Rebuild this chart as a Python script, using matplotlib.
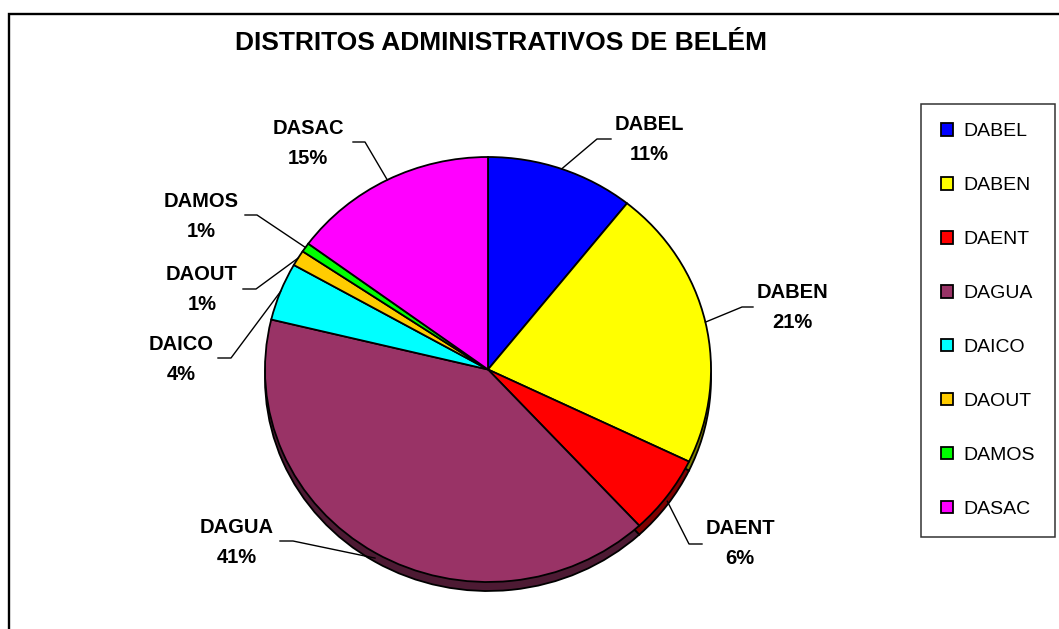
import matplotlib.pyplot as plt
from matplotlib.colors import to_rgb
from matplotlib.patches import Rectangle
import numpy as np

plt.rcParams['font.family'] = ['Liberation Sans', 'DejaVu Sans']

# Data (shares in %)
districts = ['DABEL', 'DABEN', 'DAENT', 'DAGUA', 'DAICO', 'DAOUT', 'DAMOS', 'DASAC']
shares = [10.7, 21.4, 6.0, 40.6, 4.4, 1.2, 0.7, 14.9]
colors = ['#0000FF', '#FFFF00', '#FF0000', '#993366', '#00FFFF', '#FFCC00', '#00FF00', '#FF00FF']
title = 'DISTRITOS ADMINISTRATIVOS DE BELÉM'

# layout in pixels
W, H = 1059, 629
CX, CY = 488, 369.5      # pie centre
RX, RY = 223, 212.5      # ellipse radii (tilted pie)
DEPTH = 9                # thickness of the 3d edge

# label centre x, first baseline, elbow point, end of horizontal tick
label_layout = {
    'DABEL': (649, 130, (597, 139), (611, 139)),
    'DABEN': (792, 298, (742, 307), (753, 307)),
    'DAENT': (740, 534, (689, 544), (702, 544)),
    'DAGUA': (237, 533, (293, 541), (280, 541)),
    'DAICO': (181, 350, (231, 358), (218, 358)),
    'DAOUT': (202, 280, (256, 289), (243, 289)),
    'DAMOS': (201, 207, (257, 215), (245, 215)),
    'DASAC': (308, 134, (365, 142), (353, 142)),
}


def px(x):
    return (x - CX) / RX


def py(y):
    return (CY - y) / RY


fig = plt.figure(figsize=(W / 100, H / 100), dpi=100)
ax = fig.add_axes([0, 0, 1, 1])

edge = dict(edgecolor='black', linewidth=1.3)
dark = [tuple(c * 0.5 for c in to_rgb(col)) for col in colors]

# side of the pie: darker copy shifted down
ax.pie(shares, colors=dark, startangle=90, counterclock=False,
       center=(0, -DEPTH / RY), radius=1, wedgeprops=edge)
wedges, _ = ax.pie(shares, colors=colors, startangle=90, counterclock=False,
                   center=(0, 0), radius=1, wedgeprops=edge)

ax.set_aspect('auto')
ax.set_xlim(px(0), px(W))
ax.set_ylim(py(H), py(0))
ax.axis('off')

total = sum(shares)
for w, name, s in zip(wedges, districts, shares):
    mid = np.deg2rad((w.theta1 + w.theta2) / 2)
    ex, ey = np.cos(mid), np.sin(mid)
    if ey < 0:
        ey -= 0.6 * DEPTH / RY
    cx, b1, elbow, end = label_layout[name]
    ax.plot([ex, px(elbow[0]), px(end[0])], [ey, py(elbow[1]), py(end[1])],
            color='black', lw=1)
    ax.text(px(cx), py(b1), name, ha='center', va='baseline',
            fontsize=14.5, fontweight='bold')
    ax.text(px(cx), py(b1 + 30), f'{round(s / total * 100)}%', ha='center',
            va='baseline', fontsize=14.5, fontweight='bold')

fig.text(501 / W, 1 - 50 / H, title, ha='center', va='baseline',
         fontsize=19, fontweight='bold')

leg = fig.legend(wedges, districts, loc='center',
                 bbox_to_anchor=(988 / W, 1 - 320.5 / H),
                 fontsize=14, frameon=True, fancybox=False, shadow=False,
                 handlelength=0.62, handleheight=0.62, handletextpad=0.57,
                 labelspacing=1.89, borderpad=1.0)
leg.get_frame().set_edgecolor('black')
leg.get_frame().set_linewidth(1.1)

# chart area border (runs off right and bottom edges)
fig.patches.append(Rectangle((9 / W, -0.1), 1.2, 1.1 - 14 / H, transform=fig.transFigure,
                             fill=False, edgecolor='black', linewidth=1.7))

fig.savefig('out.png', dpi=100)
